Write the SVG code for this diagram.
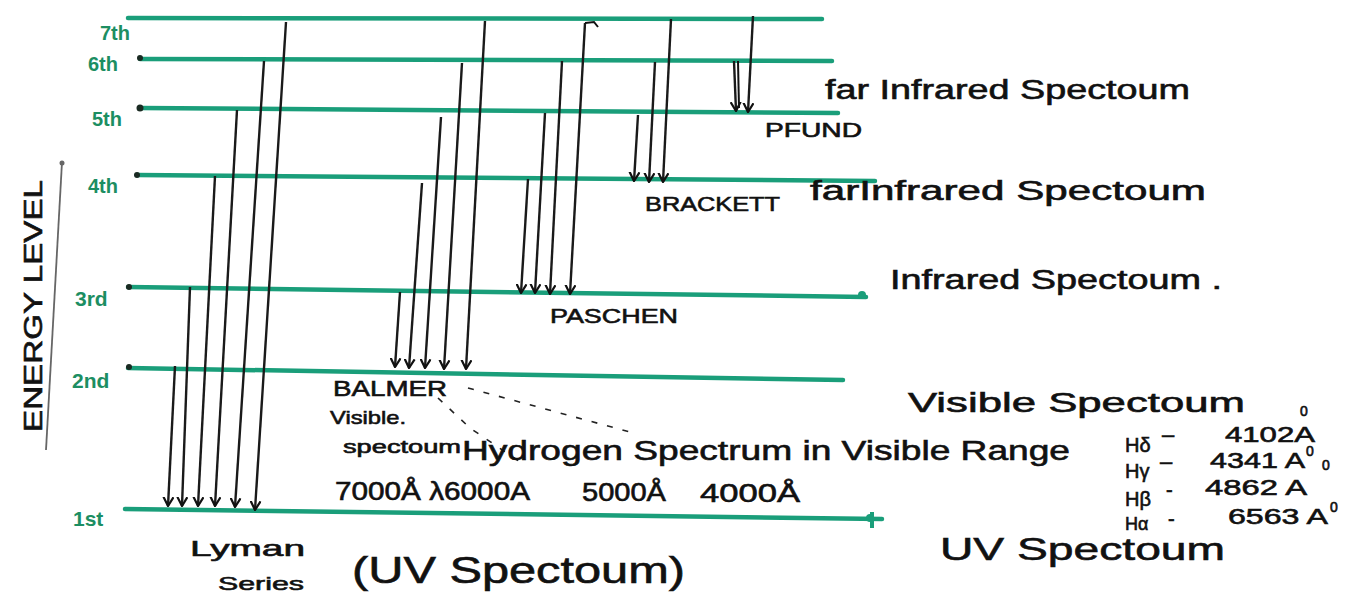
<svg xmlns="http://www.w3.org/2000/svg" width="1349" height="602" viewBox="0 0 1349 602">
<style>
.lvl{stroke:#1a9e7a;stroke-width:4.5;stroke-linecap:round;fill:none}
.tr{stroke:#1a1a1a;stroke-width:2.4;fill:none;marker-end:url(#ah)}
.dot{fill:#1a2a22}
.lab{font-family:"Liberation Sans",sans-serif;font-weight:bold;fill:#1c8e62}
.t{font-family:"Liberation Sans",sans-serif;fill:#111;stroke:#111;stroke-width:0.6}
.dash{stroke:#222;stroke-width:1.6;stroke-dasharray:6 10;fill:none}
</style>
<defs>
<marker id="ah" viewBox="0 0 10 12" refX="9" refY="6" markerWidth="10" markerHeight="12" markerUnits="userSpaceOnUse" orient="auto">
<path d="M0,1 L9,6 L0,11" fill="none" stroke="#111" stroke-width="2.2"/>
</marker>
</defs>
<rect width="1349" height="602" fill="#fff"/>

<g id="axis">
<line x1="62" y1="162" x2="46" y2="450" stroke="#666" stroke-width="1.8"/>
<circle cx="62" cy="163" r="2.5" fill="#666"/>
<text class="t" transform="translate(42,432) rotate(-90)" font-size="25" textLength="252" lengthAdjust="spacingAndGlyphs">ENERGY LEVEL</text>
</g>

<g id="levels">
<g id="level7"><line class="lvl" x1="128" y1="18" x2="822" y2="19"/><text class="lab" x="100" y="40" font-size="20">7th</text></g>
<g id="level6"><line class="lvl" x1="140" y1="59" x2="832" y2="61"/><circle class="dot" cx="140" cy="58" r="3"/><text class="lab" x="88" y="71" font-size="20">6th</text></g>
<g id="level5"><line class="lvl" x1="140" y1="108" x2="838" y2="113"/><circle class="dot" cx="140" cy="108" r="3.5"/><text class="lab" x="92" y="126" font-size="20">5th</text></g>
<g id="level4"><line class="lvl" x1="137" y1="175" x2="875" y2="181"/><circle class="dot" cx="137" cy="175" r="3"/><text class="lab" x="88" y="193" font-size="20">4th</text></g>
<g id="level3"><line class="lvl" x1="128" y1="287" x2="866" y2="297"/><circle class="dot" cx="129" cy="287" r="3"/><circle cx="862" cy="295" r="4" fill="#1a9e7a"/><text class="lab" x="75" y="306" font-size="21">3rd</text></g>
<g id="level2"><line class="lvl" x1="128" y1="368" x2="843" y2="380"/><circle class="dot" cx="129" cy="367" r="3"/><text class="lab" x="72" y="388" font-size="21">2nd</text></g>
<g id="level1"><line class="lvl" x1="125" y1="509" x2="882" y2="519" stroke-width="5"/><circle cx="870" cy="518" r="4" fill="#1a9e7a"/><line x1="872" y1="512" x2="872" y2="528" stroke="#1a9e7a" stroke-width="4"/><text class="lab" x="73" y="526" font-size="21">1st</text></g>
</g>

<g id="connectors">
<!-- Lyman -->
<line class="tr" x1="175" y1="366" x2="168" y2="506"/>
<line class="tr" x1="190" y1="287" x2="182" y2="506"/>
<line class="tr" x1="215" y1="176" x2="198" y2="506"/>
<line class="tr" x1="237" y1="110" x2="215" y2="506"/>
<line class="tr" x1="264" y1="61" x2="235" y2="507"/>
<line class="tr" x1="286" y1="22" x2="255" y2="510"/>
<!-- Balmer -->
<line class="tr" x1="400" y1="292" x2="395" y2="367"/>
<line class="tr" x1="422" y1="183" x2="409" y2="368"/>
<line class="tr" x1="441" y1="117" x2="425" y2="368"/>
<line class="tr" x1="462" y1="63" x2="444" y2="369"/>
<line class="tr" x1="485" y1="21" x2="466" y2="369"/>
<!-- Paschen -->
<line class="tr" x1="528" y1="179" x2="521" y2="293"/>
<line class="tr" x1="545" y1="113" x2="535" y2="293"/>
<line class="tr" x1="562" y1="61" x2="550" y2="294"/>
<line class="tr" x1="585" y1="23" x2="570" y2="294"/>
<path d="M585,23 L594,22 L598,27" stroke="#111" stroke-width="2" fill="none"/>
<!-- Brackett -->
<line class="tr" x1="638" y1="115" x2="634" y2="181"/>
<line class="tr" x1="655" y1="62" x2="649" y2="182"/>
<line class="tr" x1="671" y1="19" x2="663" y2="182"/>
<!-- Pfund -->
<line class="tr" x1="734" y1="61" x2="736" y2="111"/>
<line x1="738" y1="61" x2="739" y2="108" stroke="#111" stroke-width="2"/>
<line class="tr" x1="753" y1="16" x2="748" y2="112"/>
<!-- dashed -->
<path class="dash" d="M468,388 L630,432"/>
<path class="dash" d="M438,398 L470,428 L520,462"/>
</g>

<g id="labels">
<text class="t" x="825" y="99" font-size="27" textLength="365" lengthAdjust="spacingAndGlyphs">far Infrared Spectoum</text>
<text class="t" x="765" y="137" font-size="20" textLength="97" lengthAdjust="spacingAndGlyphs">PFUND</text>
<text class="t" x="645" y="211" font-size="21" textLength="135" lengthAdjust="spacingAndGlyphs">BRACKETT</text>
<text class="t" x="810" y="200" font-size="27" textLength="396" lengthAdjust="spacingAndGlyphs">farInfrared Spectoum</text>
<text class="t" x="890" y="289" font-size="27" textLength="332" lengthAdjust="spacingAndGlyphs">Infrared Spectoum .</text>
<text class="t" x="550" y="323" font-size="21" textLength="128" lengthAdjust="spacingAndGlyphs">PASCHEN</text>
<text class="t" x="908" y="412" font-size="27" textLength="337" lengthAdjust="spacingAndGlyphs">Visible Spectoum</text>
<text class="t" x="333" y="396" font-size="22" textLength="114" lengthAdjust="spacingAndGlyphs">BALMER</text>
<text class="t" x="330" y="424" font-size="19" textLength="76" lengthAdjust="spacingAndGlyphs">Visible.</text>
<text class="t" x="343" y="453" font-size="18" textLength="118" lengthAdjust="spacingAndGlyphs">spectoum</text>
<text class="t" x="462" y="460" font-size="27" textLength="608" lengthAdjust="spacingAndGlyphs">Hydrogen Spectrum in Visible Range</text>
<text class="t" x="335" y="500" font-size="25" textLength="195" lengthAdjust="spacingAndGlyphs">7000Å λ6000A</text>
<text class="t" x="582" y="501" font-size="25" textLength="84" lengthAdjust="spacingAndGlyphs">5000Å</text>
<text class="t" x="700" y="502" font-size="25" textLength="100" lengthAdjust="spacingAndGlyphs">4000Å</text>
<text class="t" x="1125" y="452" font-size="20">Hδ</text>
<text class="t" x="1162" y="442" font-size="22">–</text>
<text class="t" x="1225" y="442" font-size="22" textLength="90" lengthAdjust="spacingAndGlyphs">4102A</text>
<text class="t" x="1300" y="416" font-size="14">0</text>
<text class="t" x="1125" y="478" font-size="20">Hγ</text>
<text class="t" x="1160" y="469" font-size="22">–</text>
<text class="t" x="1210" y="468" font-size="22" textLength="95" lengthAdjust="spacingAndGlyphs">4341 A</text>
<text class="t" x="1306" y="456" font-size="14">0</text>
<text class="t" x="1125" y="506" font-size="20">Hβ</text>
<text class="t" x="1166" y="497" font-size="20">-</text>
<text class="t" x="1205" y="495" font-size="22" textLength="102" lengthAdjust="spacingAndGlyphs">4862 A</text>
<text class="t" x="1322" y="470" font-size="14">0</text>
<text class="t" x="1125" y="530" font-size="18">Hα</text>
<text class="t" x="1168" y="526" font-size="20">-</text>
<text class="t" x="1228" y="524" font-size="22" textLength="100" lengthAdjust="spacingAndGlyphs">6563 A</text>
<text class="t" x="1330" y="512" font-size="14">0</text>
<text class="t" x="940" y="560" font-size="32" textLength="285" lengthAdjust="spacingAndGlyphs">UV Spectoum</text>
<text class="t" x="190" y="556" font-size="22" textLength="115" lengthAdjust="spacingAndGlyphs">Lyman</text>
<text class="t" x="218" y="590" font-size="19" textLength="86" lengthAdjust="spacingAndGlyphs">Series</text>
<text class="t" x="352" y="583" font-size="36" textLength="333" lengthAdjust="spacingAndGlyphs">(UV Spectoum)</text>
</g>
</svg>
